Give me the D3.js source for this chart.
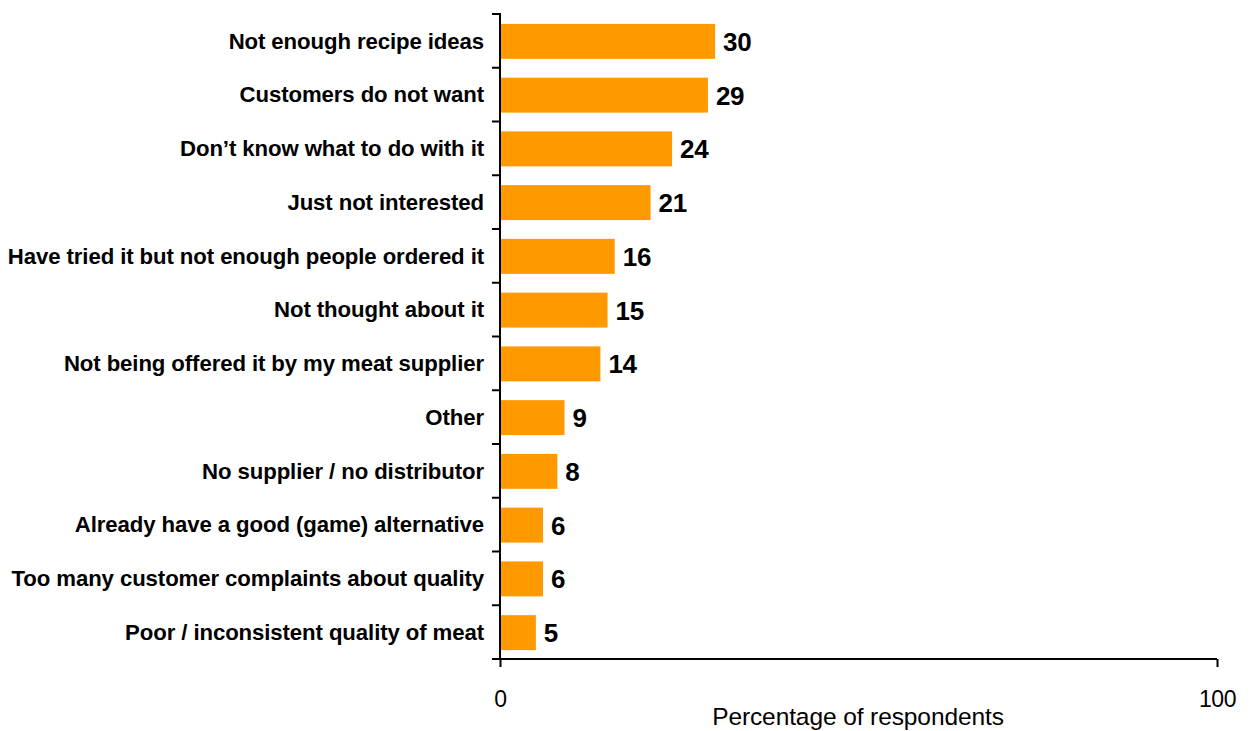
<!DOCTYPE html>
<html>
<head>
<meta charset="utf-8">
<script src="https://cdn.jsdelivr.net/npm/d3@7"></script>
<style>
  html, body { margin: 0; padding: 0; background: #fff; }
  svg { display: block; }
  text { font-family: "Liberation Sans", Arial, sans-serif; fill: #000; }
</style>
</head>
<body>
<svg id="chart" width="1252" height="731"></svg>
<script>
// Reasons given for not offering the meat (percentage of respondents)
const categories = [
  "Not enough recipe ideas",
  "Customers do not want",
  "Don\u2019t know what to do with it",
  "Just not interested",
  "Have tried it but not enough people ordered it",
  "Not thought about it",
  "Not being offered it by my meat supplier",
  "Other",
  "No supplier / no distributor",
  "Already have a good (game) alternative",
  "Too many customer complaints about quality",
  "Poor / inconsistent quality of meat"
];
const values = [30, 29, 24, 21, 16, 15, 14, 9, 8, 6, 6, 5];
const xTicks = [0, 100];
const xTitle = "Percentage of respondents";

const svg = d3.select("#chart");
const plotLeft = 500, plotRight = 1217, plotTop = 14, plotBottom = 659;

const x = d3.scaleLinear().domain([0, 100]).range([plotLeft, plotRight]);
const y = d3.scaleBand().domain(categories).range([plotTop, plotBottom])
  .paddingInner(0.35).paddingOuter(0.175);

// bars
svg.append("g").selectAll("rect")
  .data(values)
  .join("rect")
  .attr("x", x(0) + 1)
  .attr("y", (d, i) => y(categories[i]) + 0.5)
  .attr("width", d => x(d) - x(0) - 1)
  .attr("height", y.bandwidth())
  .attr("fill", "#ff9900");

// value labels
svg.append("g").selectAll("text")
  .data(values)
  .join("text")
  .attr("x", d => x(d) + 8)
  .attr("y", (d, i) => y(categories[i]) + y.bandwidth() / 2 + 10)
  .attr("font-size", 26)
  .attr("font-weight", "bold")
  .attr("letter-spacing", -0.3)
  .text(d => d);

// category axis: labels centred on bands, ticks on band boundaries
const yAxis = svg.append("g").attr("transform", `translate(${plotLeft},0)`)
  .call(d3.axisLeft(y).tickSize(0).tickPadding(16));
yAxis.select(".domain").remove();
yAxis.selectAll("text")
  .attr("font-size", 22.2)
  .attr("font-weight", "bold")
  .attr("letter-spacing", -0.1)
  .attr("dy", "0.35em")
  .style("font-family", "'Liberation Sans', Arial, sans-serif");

const step = y.step();
const bounds = d3.range(categories.length + 1).map(i => plotTop + i * step);
svg.append("g").selectAll("line")
  .data(bounds)
  .join("line")
  .attr("x1", plotLeft - 8).attr("x2", plotLeft)
  .attr("y1", d => d).attr("y2", d => d)
  .attr("stroke", "#000").attr("stroke-width", 2);
svg.append("line")
  .attr("x1", plotLeft).attr("x2", plotLeft)
  .attr("y1", plotTop - 1).attr("y2", plotBottom + 1)
  .attr("stroke", "#000").attr("stroke-width", 2);

// value axis
const xAxis = svg.append("g").attr("transform", `translate(0,${plotBottom})`)
  .call(d3.axisBottom(x).tickValues(xTicks).tickSize(8).tickPadding(24).tickFormat(d3.format("d")));
xAxis.select(".domain").attr("stroke-width", 2).attr("d", `M${plotLeft - 8},0H${plotRight}`);
xAxis.selectAll(".tick line").attr("stroke-width", 2);
xAxis.selectAll("text")
  .attr("font-size", 23)
  .attr("letter-spacing", -0.5)
  .style("font-family", "'Liberation Sans', Arial, sans-serif");

svg.append("text")
  .attr("x", 858)
  .attr("y", 725)
  .attr("text-anchor", "middle")
  .attr("font-size", 24.5)
  .attr("letter-spacing", -0.1)
  .text(xTitle);
</script>
</body>
</html>
